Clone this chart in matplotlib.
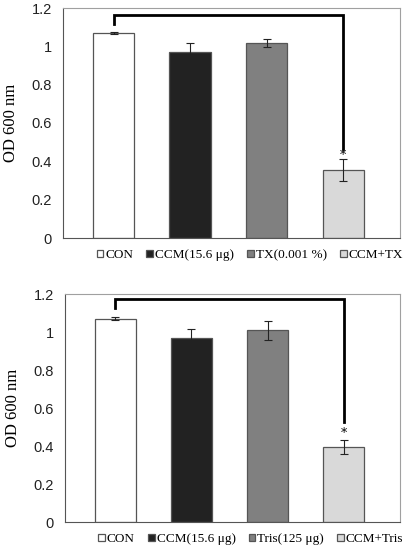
import numpy as np
import matplotlib.pyplot as plt

# panel 1 : CCM + Triton X
labels1 = ['CON', 'CCM(15.6 \u03bcg)', 'TX(0.001 %)', 'CCM+TX']
vals1 = [1.07, 0.968, 1.016, 0.355]
errs1 = [0.007, 0.05, 0.022, 0.058]
bracket1 = [1.115, 1.165, 0.465]   # lewy koniec, gora, prawy koniec
star1 = 0.43

# panel 2 : CCM + Tris
labels2 = ['CON', 'CCM(15.6 \u03bcg)', 'Tris(125 \u03bcg)', 'CCM+Tris']
vals2 = [1.07, 0.97, 1.01, 0.395]
errs2 = [0.008, 0.048, 0.05, 0.038]
bracket2 = [1.125, 1.172, 0.525]
star2 = 0.465

colors = ['white', '#222222', '#808080', '#d9d9d9']

W, H = 417, 550
fig = plt.figure(figsize=(W / 100, H / 100), dpi=100)


def panel(box, labels, vals, errs, bracket, star_y):
    l, t, r, b = box
    ax = fig.add_axes([l / W, 1 - b / H, (r - l) / W, (b - t) / H])
    x = np.arange(len(vals))
    bars = ax.bar(x, vals, width=0.54, color=colors, edgecolor='#555555',
                  linewidth=0.9, zorder=2)
    ax.errorbar(x, vals, yerr=errs, fmt='none', ecolor='#222222',
                elinewidth=0.8, capsize=3, capthick=0.8, zorder=3)
    ax.plot([0, 0, 3, 3], [bracket[0], bracket[1], bracket[1], bracket[2]],
            color='black', lw=2, solid_joinstyle='miter', zorder=4)
    ax.text(3, star_y, '*', ha='center', va='center', fontsize=9,
            family='DejaVu Serif')
    ax.set_xlim(-0.66, 3.74)
    ax.set_ylim(0, 1.2)
    ax.set_yticks(np.arange(0, 1.21, 0.2))
    ax.set_yticklabels(['0', '0.2', '0.4', '0.6', '0.8', '1', '1.2'],
                       family='Liberation Sans', fontsize=10.5, color='#222222')
    ax.set_xticks([])
    ax.tick_params(axis='y', length=0, pad=8)
    for s in ['top', 'right']:
        ax.spines[s].set_color('#a0a0a0')
    for s in ['left', 'bottom']:
        ax.spines[s].set_color('#555555')
    ax.set_ylabel('OD 600 nm', family='Liberation Serif', fontsize=12,
                  labelpad=9)
    ax.legend(bars, labels, ncol=4, loc='upper center',
              bbox_to_anchor=(0.555, -0.025), frameon=False,
              handlelength=0.5, handleheight=0.5, handletextpad=0.15,
              columnspacing=1.0, borderaxespad=0,
              prop={'family': 'Liberation Serif', 'size': 9.5})
    return ax


panel((63, 8, 400, 238), labels1, vals1, errs1, bracket1, star1)
panel((65, 294, 400, 522), labels2, vals2, errs2, bracket2, star2)

fig.savefig('out.png', dpi=100)
